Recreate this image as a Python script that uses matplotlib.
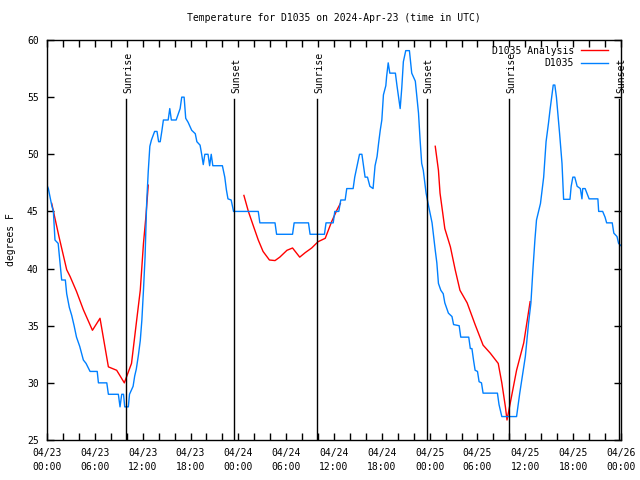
import matplotlib
matplotlib.use("Agg")
import matplotlib.pyplot as plt
from matplotlib.ticker import MultipleLocator, FixedLocator
import numpy as np

plt.rcParams['font.family'] = ['DejaVu Sans Mono']

title = "Temperature for D1035 on 2024-Apr-23 (time in UTC)"
ylabel = "degrees F"

# hours since 2024-04-23 00:00 UTC
obs_h = [0.05, 0.17, 0.6, 0.8, 1.0, 1.4, 1.84, 2.3, 2.47, 2.8, 3.1, 3.4, 3.7, 4.1, 4.56, 4.9, 5.4, 6.3, 6.45, 7.5,
         7.7, 8.95, 9.16, 9.37, 9.6, 9.75, 10.2, 10.35, 10.8, 11.0, 11.2, 11.46, 11.7, 11.9, 12.1, 12.3, 12.4, 12.5,
         12.7, 12.9, 13.1, 13.5, 13.8, 14.0, 14.2, 14.4, 14.6, 15.2, 15.4, 15.6, 16.2, 16.7, 16.9, 17.2, 17.4, 17.7,
         18.15, 18.6, 18.8, 19.2, 19.4, 19.6, 19.8, 20.2, 20.4, 20.6, 20.8, 22.0, 22.3, 22.5, 22.7, 23.1, 23.4, 26.5,
         26.7, 28.6, 28.8, 30.8, 31.0, 32.8, 33.0, 34.8, 35.0, 35.9, 36.1, 36.6, 36.85, 37.4, 37.6, 38.4, 38.6, 38.9,
         39.2, 39.5, 39.9, 40.2, 40.5, 40.9, 41.15, 41.4, 41.6, 41.8, 42.0, 42.2, 42.5, 42.6, 42.8, 43.0, 43.7, 43.9,
         44.1, 44.3, 44.5, 44.7, 45.0, 45.46, 45.75, 46.2, 46.4, 46.6, 46.8, 47.0, 47.2, 47.55, 47.8, 48.3, 48.5,
         48.7, 48.9, 49.1, 49.4, 49.7, 49.9, 50.35, 50.8, 51.0, 51.7, 51.9, 52.9, 53.1, 53.3, 53.5, 53.7, 54.0, 54.2,
         54.5, 54.7, 56.5, 56.7, 57.05, 58.9, 59.1, 59.3, 59.55, 60.0, 60.4, 60.7, 60.95, 61.2, 61.4, 61.9, 62.3,
         62.6, 62.9, 63.1, 63.3, 63.5, 63.7, 63.9, 64.3, 64.6, 64.8, 65.6, 65.75, 65.96, 66.2, 66.5, 66.9, 67.1,
         67.2, 67.5, 68.0, 69.1, 69.2, 69.7, 70.0, 70.2, 70.9, 71.1, 71.5, 71.7, 72.0]
obs_t = [47.2, 47.0, 45.5, 45.0, 42.5, 42.2, 39.0, 39.0, 37.8, 36.6, 35.9, 35.0, 34.0, 33.2, 32.0, 31.7, 31.0, 31.0,
         30.0, 30.0, 29.0, 29.0, 27.9, 29.0, 29.0, 27.9, 27.9, 29.0, 29.7, 30.6, 31.2, 32.4, 33.7, 35.5, 38.1, 41.0,
         43.3, 45.7, 48.5, 50.7, 51.25, 52.0, 52.0, 51.1, 51.1, 52.0, 53.0, 53.0, 54.0, 53.0, 53.0, 54.0, 55.0, 55.0,
         53.15, 52.8, 52.1, 51.8, 51.1, 50.8, 50.0, 49.1, 50.0, 50.0, 49.0, 50.0, 49.0, 49.0, 48.0, 46.9, 46.1, 46.0,
         45.0, 45.0, 44.0, 44.0, 43.0, 43.0, 44.0, 44.0, 43.0, 43.0, 44.0, 44.0, 45.0, 45.0, 46.0, 46.0, 47.0, 47.0,
         48.0, 49.0, 50.0, 50.0, 48.0, 48.0, 47.2, 47.0, 49.0, 49.8, 51.0, 52.1, 53.0, 55.2, 56.0, 56.8, 58.0, 57.1,
         57.1, 56.0, 55.0, 54.0, 55.8, 58.1, 59.07, 59.07, 57.1, 56.4, 55.0, 53.6, 51.25, 49.2, 48.6, 46.6, 45.7,
         44.0, 42.8, 41.6, 40.5, 38.7, 38.1, 37.8, 37.0, 36.1, 35.8, 35.1, 35.0, 34.0, 34.0, 33.0, 33.0, 32.0, 31.1,
         31.0, 30.1, 30.0, 29.1, 29.1, 28.1, 27.05, 27.05, 28.1, 29.1, 30.25, 32.3, 35.2, 37.0, 39.9, 42.5, 44.25,
         45.7, 48.0, 51.1, 52.7, 53.9, 55.0, 56.06, 56.06, 55.0, 51.8, 49.2, 46.06, 46.06, 47.2, 48.0, 48.0, 47.2,
         47.0, 46.1, 47.0, 47.0, 46.1, 46.1, 45.0, 45.0, 44.5, 44.0, 44.0, 43.1, 42.8, 42.2, 42.0]

ana1_h = [0.59, 1.5, 2.47, 2.9, 3.7, 4.56, 5.7, 6.65, 7.7, 8.74, 9.7, 10.6, 11.25, 11.7, 12.1, 12.4, 12.7]
ana1_t = [45.7, 42.8, 39.9, 39.3, 38.0, 36.4, 34.6, 35.65, 31.4, 31.1, 30.0, 31.7, 35.5, 38.1, 42.2, 44.5, 47.3]
ana2_h = [24.7, 25.26, 25.9, 26.5, 27.1, 27.9, 28.6, 29.2, 30.1, 30.8, 31.7, 32.4, 33.2, 34.0, 34.9, 35.7, 36.35, 36.8]
ana2_t = [46.4, 45.0, 43.7, 42.5, 41.5, 40.75, 40.7, 41.0, 41.6, 41.8, 41.0, 41.4, 41.8, 42.35, 42.65, 44.1, 45.1, 45.7]
ana3_h = [48.7, 49.1, 49.3, 49.65, 49.9, 50.6, 51.2, 51.8, 52.7, 53.7, 54.7, 55.6, 56.6, 57.05, 57.5, 57.7, 58.1,
          58.9, 59.8, 60.6]
ana3_t = [50.7, 48.6, 46.6, 44.8, 43.5, 41.9, 39.9, 38.1, 37.0, 35.1, 33.3, 32.6, 31.7, 30.0, 27.9, 26.75, 28.2,
          31.1, 33.5, 37.1]

sun_h = [9.95, 23.5, 33.9, 47.62, 58.0, 71.75]
sun_lbl = ["Sunrise", "Sunset", "Sunrise", "Sunset", "Sunrise", "Sunset"]

xtick_h = [0, 6, 12, 18, 24, 30, 36, 42, 48, 54, 60, 66, 72]
xtick_lbl = ["04/23\n00:00", "04/23\n06:00", "04/23\n12:00", "04/23\n18:00",
             "04/24\n00:00", "04/24\n06:00", "04/24\n12:00", "04/24\n18:00",
             "04/25\n00:00", "04/25\n06:00", "04/25\n12:00", "04/25\n18:00",
             "04/26\n00:00"]

red = "#ff0000"
blue = "#0080ff"
fs = 7

fig = plt.figure(figsize=(6.4, 4.8), dpi=100)
ax = fig.add_axes([47/640, 40/480, 574/640, 400/480])

ax.plot(ana1_h, ana1_t, color=red, lw=1, label="D1035 Analysis")
ax.plot(ana2_h, ana2_t, color=red, lw=1)
ax.plot(ana3_h, ana3_t, color=red, lw=1)
ax.plot(obs_h, obs_t, color=blue, lw=1, label="D1035")

for h, l in zip(sun_h, sun_lbl):
    ax.axvline(h, ymin=0, ymax=0.8525, color="black", lw=1)
    ax.text(h + 0.25, 0.8675, l, transform=ax.get_xaxis_transform(), rotation=90,
            ha="center", va="bottom", fontsize=fs, clip_on=False)

ax.set_xlim(0, 72)
ax.set_ylim(25, 60)
ax.xaxis.set_major_locator(FixedLocator(xtick_h))
ax.set_xticklabels(xtick_lbl, fontsize=fs, linespacing=1.45)
ax.xaxis.set_minor_locator(MultipleLocator(2))
ax.yaxis.set_major_locator(MultipleLocator(5))
ax.tick_params(axis="both", which="both", direction="in", top=True, right=True,
               length=5, width=1, labelsize=fs)
ax.tick_params(axis="x", which="major", pad=6)
ax.tick_params(axis="y", which="major", pad=6)
for s in ax.spines.values():
    s.set_linewidth(1)

ax.set_title(title, fontsize=fs, pad=14)
ax.set_ylabel(ylabel, fontsize=fs, labelpad=8)

ax.legend(loc="upper right", bbox_to_anchor=(0.987, 1.0), markerfirst=False, frameon=False,
          fontsize=fs, handlelength=2.75, handletextpad=0.7, labelspacing=0.22, borderaxespad=0.2)

fig.savefig("out.png", dpi=100)
